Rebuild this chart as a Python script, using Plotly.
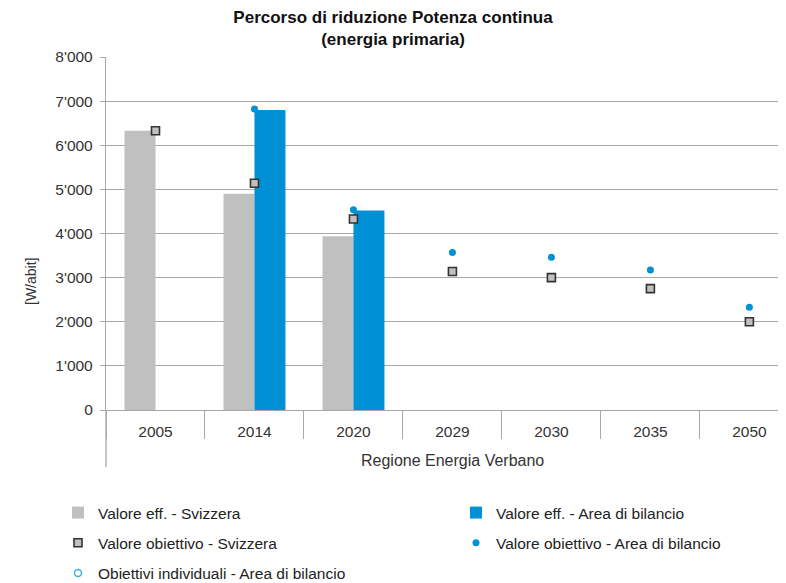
import plotly.graph_objects as go

categories = ['2005', '2014', '2020', '2029', '2030', '2035', '2050']
eff_svizzera = [6330, 4900, 3940, None, None, None, None]
eff_area = [None, 6800, 4520, None, None, None, None]
obj_svizzera = [6330, 5140, 4330, 3140, 3000, 2750, 2000]
obj_area = [None, 6820, 4540, 3570, 3460, 3170, 2330]
obj_individuali = [None, None, None, None, None, None, None]
y_ticks = [0, 1000, 2000, 3000, 4000, 5000, 6000, 7000, 8000]
y_ticktext = ["0", "1'000", "2'000", "3'000", "4'000", "5'000", "6'000", "7'000", "8'000"]

# page body has an 8px margin: figure is drawn at (8, 8) in the window
OFF = 8
W, H = 786 - OFF, 583 - OFF
L, T = 106 - OFF, 57 - OFF
BOTTOM = 410 - OFF
B = H - BOTTOM
FONT = "Liberation Sans, Arial, sans-serif"
GRAY = "#c0c0c0"
BLUE = "#0090d5"
GRID = "#a8a8a8"

fig = go.Figure()
fig.add_trace(go.Bar(x=categories, y=eff_svizzera, name="Valore eff. - Svizzera",
                     marker=dict(color=GRAY, line=dict(width=0)),
                     legend="legend", legendgroup="a"))
fig.add_trace(go.Bar(x=categories, y=eff_area, name="Valore eff. - Area di bilancio",
                     marker=dict(color=BLUE, line=dict(width=0)),
                     legend="legend2", legendgroup="b"))
fig.add_trace(go.Scatter(x=categories, y=obj_svizzera, mode="markers",
                         name="Valore obiettivo - Svizzera",
                         marker=dict(symbol="square", size=8, color=GRAY,
                                     line=dict(color="#333333", width=1.6)),
                         legend="legend", legendgroup="c"))
fig.add_trace(go.Scatter(x=categories, y=obj_area, mode="markers",
                         name="Valore obiettivo - Area di bilancio",
                         marker=dict(symbol="circle", size=7, color=BLUE, line=dict(width=0)),
                         legend="legend2", legendgroup="d"))
fig.add_trace(go.Scatter(x=categories, y=obj_individuali, mode="markers",
                         name="Obiettivi individuali - Area di bilancio",
                         marker=dict(symbol="circle-open", size=7, color="#40b0e8",
                                     line=dict(width=1.5)),
                         legend="legend", legendgroup="e"))

leg_common = dict(xref="container", yref="container", xanchor="left", yanchor="top",
                  orientation="v", itemwidth=30, tracegroupgap=7,
                  font=dict(family=FONT, size=15.5, color="#222222"),
                  bgcolor="rgba(0,0,0,0)", borderwidth=0)

fig.update_layout(
    width=W, height=H,
    margin=dict(l=L, r=0, t=T, b=B, autoexpand=False),
    paper_bgcolor="white", plot_bgcolor="white",
    barmode="group", bargap=0.374, bargroupgap=0,
    title=dict(text="<b>Percorso di riduzione Potenza continua<br>(energia primaria)</b>",
               x=385 / W, xref="container", xanchor="center",
               y=1 - 15 / H, yref="container", yanchor="top",
               font=dict(family=FONT, size=17, color="#111111")),
    legend=dict(x=50 / W, y=1 - 488 / H, **leg_common),
    legend2=dict(x=448 / W, y=1 - 488 / H, **leg_common),
    xaxis=dict(type="category", range=[-0.5, 6.37],
               showline=True, linecolor=GRID, linewidth=1.3,
               ticks="outside", tickson="boundaries", ticklen=28,
               tickcolor=GRID, tickwidth=1.3, ticklabelstandoff=7,
               showgrid=False,
               tickfont=dict(family=FONT, size=15.5, color="#333333")),
    yaxis=dict(range=[0, 8000], tickvals=y_ticks, ticktext=y_ticktext,
               showline=True, linecolor=GRID, linewidth=1.3,
               ticks="outside", ticklen=5, tickcolor=GRID, tickwidth=1.3,
               ticklabelstandoff=4,
               showgrid=True, gridcolor=GRID, gridwidth=1.3, zeroline=False,
               tickfont=dict(family=FONT, size=15.5, color="#333333")),
    showlegend=True,
)

plot_h = H - T - B
plot_w = W - L
fig.add_shape(type="line", xref="paper", yref="paper",
              x0=0, x1=0, y0=0, y1=-(467 - OFF - BOTTOM) / plot_h,
              line=dict(color=GRID, width=1.3))
fig.add_annotation(text="Regione Energia Verbano", xref="x", yref="paper",
                   x=3, y=(BOTTOM - (460 - OFF)) / plot_h, showarrow=False,
                   xanchor="center", yanchor="middle",
                   font=dict(family=FONT, size=16, color="#333333"))
fig.add_annotation(text="[W/abit]", xref="paper", yref="paper",
                   x=((31 - OFF) - L) / plot_w, y=(BOTTOM - (282 - OFF)) / plot_h,
                   textangle=-90, showarrow=False, xanchor="center", yanchor="middle",
                   font=dict(family=FONT, size=14, color="#333333"))

fig.write_html("out.html")
